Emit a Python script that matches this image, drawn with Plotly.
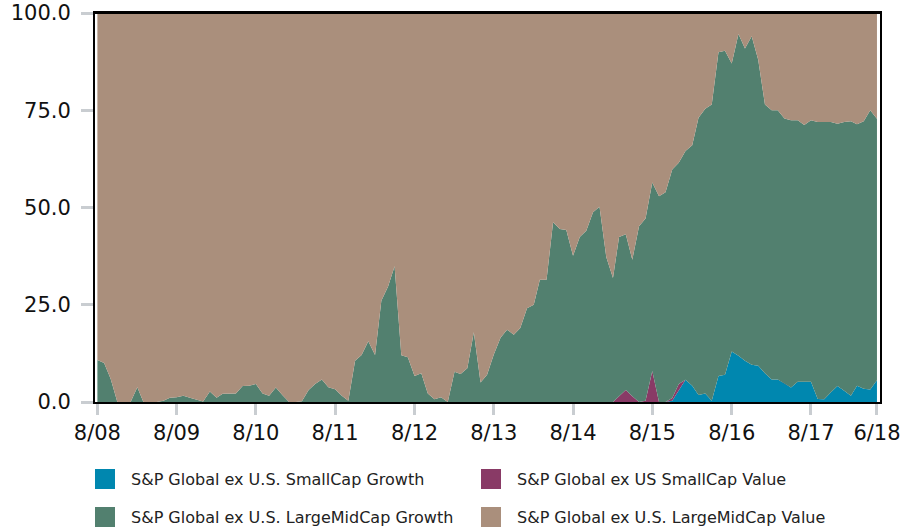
import pandas as pd
import plotly.graph_objects as go

# Monthly style allocation (%), Aug 2008 - Jun 2018
months = pd.date_range("2008-08-01", "2018-06-01", freq="MS")

small_growth = [0] * 87 + [
    0.3, 3.0, 5.7, 4.2, 1.8, 2.2, 0.3, 6.7, 7.0, 13.0,
    11.9, 10.6, 9.6, 9.3, 7.4, 5.8, 5.8, 4.8, 3.7, 5.2,
    5.2, 5.2, 0.8, 0.7, 2.5, 4.1, 2.9, 1.6, 4.2, 3.4,
    3.2, 5.6,
]

small_value = [0] * 79 + [
    1.5, 3.1, 1.5, 0, 0.3, 8.0, 0, 0, 0.7, 1.6,
] + [0] * 30

large_growth = [
    10.8, 10.0, 6.0, 0, 0, 0, 3.8, 0, 0, 0,
    0.3, 1.1, 1.2, 1.6, 1.1, 0.6, 0.1, 2.7, 1.1, 2.1,
    2.1, 2.2, 4.1, 4.2, 4.6, 2.2, 1.6, 3.7, 1.8, 0,
    0, 0.2, 3.1, 4.6, 5.8, 3.8, 3.3, 1.6, 0.3, 10.6,
    12.1, 15.6, 12.1, 26.0, 29.7, 34.9, 12.0, 11.5, 6.7, 7.4,
    2.2, 0.7, 1.2, 0, 7.8, 7.2, 8.7, 17.9, 5.0, 7.0,
    12.2, 16.5, 18.6, 17.3, 19.0, 24.1, 25.0, 31.4, 31.4, 46.2,
    44.5, 44.2, 37.6, 42.4, 44.0, 48.8, 50.2, 37.3, 31.9, 40.9,
    40.0, 35.1, 45.2, 46.9, 48.4, 52.9, 53.9, 58.8, 56.9, 58.8,
    61.8, 71.3, 73.2, 76.2, 83.2, 83.3, 74.0, 82.7, 80.3, 84.4,
    78.7, 69.1, 69.2, 69.2, 68.1, 68.7, 67.2, 66.0, 67.2, 71.2,
    71.3, 69.5, 67.4, 69.1, 70.6, 67.2, 68.8, 71.8, 67.2,
]

large_value = [
    89.2, 90.0, 94.0, 100, 100, 100, 96.2, 100, 100, 100,
    99.7, 98.9, 98.8, 98.4, 98.9, 99.4, 99.9, 97.3, 98.9, 97.9,
    97.9, 97.8, 95.9, 95.8, 95.4, 97.8, 98.4, 96.3, 98.2, 100,
    100, 99.8, 96.9, 95.4, 94.2, 96.2, 96.7, 98.4, 99.7, 89.4,
    87.9, 84.4, 87.9, 74.0, 70.3, 65.1, 88.0, 88.5, 93.3, 92.6,
    97.8, 99.3, 98.8, 100, 92.2, 92.8, 91.3, 82.1, 95.0, 93.0,
    87.8, 83.5, 81.4, 82.7, 81.0, 75.9, 75.0, 68.6, 68.6, 53.8,
    55.5, 55.8, 62.4, 57.6, 56.0, 51.2, 49.8, 62.7, 68.1, 57.6,
    56.9, 63.4, 54.8, 52.8, 43.6, 47.1, 46.1, 40.2, 38.5, 35.5,
    34.0, 26.9, 24.6, 23.5, 10.1, 9.7, 13.0, 5.4, 9.1, 6.0,
    12.0, 23.5, 25.0, 25.0, 27.1, 27.6, 27.6, 28.8, 27.6, 28.0,
    28.0, 28.0, 28.5, 28.0, 27.8, 28.6, 27.8, 25.0, 27.2,
]

series_names = [
    "S&P Global ex U.S. SmallCap Growth",
    "S&P Global ex US SmallCap Value",
    "S&P Global ex U.S. LargeMidCap Growth",
    "S&P Global ex U.S. LargeMidCap Value",
]
series_colors = ["#0087AF", "#893A66", "#52806F", "#AA8F7C"]

tick_dates = ["2008-08-01", "2009-08-01", "2010-08-01", "2011-08-01",
              "2012-08-01", "2013-08-01", "2014-08-01", "2015-08-01",
              "2016-08-01", "2017-08-01", "2018-06-01"]
tick_text = ["8/08", "8/09", "8/10", "8/11", "8/12", "8/13", "8/14",
             "8/15", "8/16", "8/17", "6/18"]
y_ticks = [0, 25, 50, 75, 100]

FONT = "DejaVu Sans"
W, H = 902, 529
L, R, T, B = 95, 22, 13, 127

fig = go.Figure()
for name, vals, col in zip(series_names,
                           [small_growth, small_value, large_growth, large_value],
                           series_colors):
    fig.add_trace(go.Scatter(
        x=months, y=vals, name=name, mode="lines",
        stackgroup="alloc", line=dict(width=0, color=col),
        fillcolor=col, showlegend=False,
    ))

fig.update_layout(
    width=W, height=H,
    margin=dict(l=L, r=R, t=T, b=B, pad=0, autoexpand=False),
    paper_bgcolor="white", plot_bgcolor="white",
    font=dict(family=FONT, size=21, color="#111"),
    xaxis=dict(
        type="date", range=["2008-07-21", "2018-06-15"],
        tickvals=tick_dates, ticktext=tick_text,
        ticks="outside", ticklen=11, tickwidth=3, tickcolor="#C9CDD1",
        showgrid=False, zeroline=False, automargin=False,
        showline=True, linecolor="black", linewidth=2, mirror=True,
        layer="below traces",
        tickfont=dict(size=21, family=FONT),
    ),
    yaxis=dict(
        range=[0, 100], tickvals=y_ticks,
        ticktext=[f"{v:.1f}" for v in y_ticks],
        ticks="outside", ticklen=12, tickwidth=3, tickcolor="#C9CDD1",
        ticklabelstandoff=6, automargin=False,
        showgrid=False, zeroline=False,
        showline=True, linecolor="black", linewidth=2, mirror=True,
        tickfont=dict(size=21, family=FONT),
    ),
)

# top border drawn over the fills
fig.add_shape(type="line", xref="paper", yref="paper", x0=0, x1=1, y0=1, y1=1,
              line=dict(color="black", width=2), layer="above")

# legend: coloured squares with labels in a 2x2 grid
pw, ph = W - L - R, H - T - B


def px_x(px):
    return (px - L) / pw


def px_y(py):
    return (H - B - py) / ph


legend_pos = [(95, 479), (481, 479), (95, 517), (481, 517)]
for (lx, ly), name, col in zip(legend_pos, series_names, series_colors):
    fig.add_shape(type="rect", xref="paper", yref="paper",
                  x0=px_x(lx), x1=px_x(lx + 20), y0=px_y(ly - 10), y1=px_y(ly + 10),
                  fillcolor=col, line=dict(width=0))
    fig.add_annotation(xref="paper", yref="paper", x=px_x(lx + 34), y=px_y(ly),
                       text=name, showarrow=False, xanchor="left", yanchor="middle",
                       font=dict(family=FONT, size=16, color="#222"))

fig.write_html("out.html")
